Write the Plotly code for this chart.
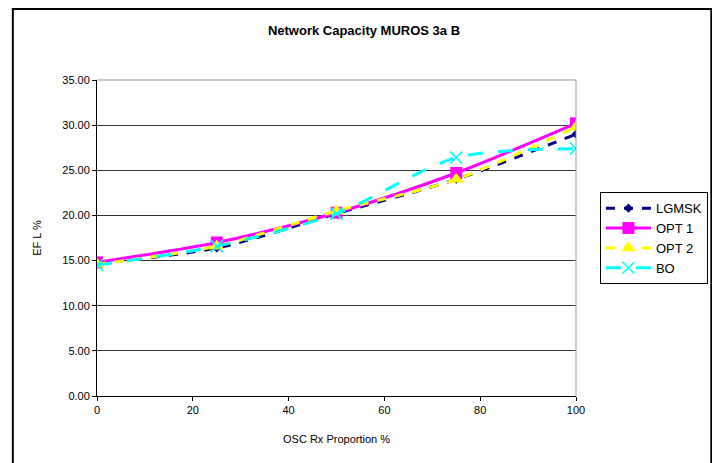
import plotly.graph_objects as go

# data
x_vals = [0, 25, 50, 75, 100]
lgmsk = [14.7, 16.4, 20.2, 24.0, 29.0]
opt1 = [14.8, 17.0, 20.3, 24.7, 30.2]
opt2 = [14.6, 16.6, 20.5, 24.0, 29.8]
bo = [14.5, 16.6, 20.2, 26.4, 27.4]

font = "Liberation Sans, Arial, sans-serif"

fig = go.Figure()

# LGMSK - navy, dashed, diamonds
fig.add_trace(go.Scatter(
  x=x_vals, y=lgmsk, name="LGMSK", mode="lines+markers",
  line=dict(color="#000080", width=3, dash="dash", shape="spline", smoothing=0.8),
  marker=dict(symbol="diamond", size=7, color="#000080")
))
# OPT 1 - magenta solid, squares
fig.add_trace(go.Scatter(
  x=x_vals, y=opt1, name="OPT 1", mode="lines+markers",
  line=dict(color="#FF00FF", width=3, shape="spline", smoothing=0.8),
  marker=dict(symbol="square", size=12, color="#FF00FF")
))
# OPT 2 - yellow dashed, triangles
fig.add_trace(go.Scatter(
  x=x_vals, y=opt2, name="OPT 2", mode="lines+markers",
  line=dict(color="#FFFF00", width=3, dash="dash", shape="spline", smoothing=0.8),
  marker=dict(symbol="triangle-up", size=13, color="#FFFF00")
))
# BO - cyan long dash, x markers
fig.add_trace(go.Scatter(
  x=x_vals, y=bo, name="BO", mode="lines+markers",
  line=dict(color="#00FFFF", width=3, dash="longdash", shape="spline", smoothing=0.8),
  marker=dict(symbol="x-thin", size=12, line=dict(color="#00FFFF", width=1.5))
))

# page body has an 8px margin, so the figure is sized to fit the window
fig.update_layout(
  width=712, height=455,
  margin=dict(l=89, r=142, t=72, b=67),
  paper_bgcolor="white", plot_bgcolor="white",
  font=dict(family=font, size=11, color="black"),
  title=dict(text="<b>Network Capacity MUROS 3a B</b>", x=0.5, xanchor="center",
             y=0.95, yanchor="middle", font=dict(size=13, family=font)),
  showlegend=True,
  legend=dict(x=1.05, y=0.645, xanchor="left", yanchor="top",
              bordercolor="black", borderwidth=1, bgcolor="white",
              font=dict(size=13, family=font), tracegroupgap=0,
              itemwidth=45),
  shapes=[
    # chart area border
    dict(type="rect", xref="paper", yref="paper",
         x0=-0.1757, x1=1.2825, y0=-0.25, y1=1.2247,
         line=dict(color="black", width=2)),
    # plot area right and top border
    dict(type="line", xref="paper", yref="paper", x0=1, x1=1, y0=0, y1=1,
         line=dict(color="#999999", width=1)),
    dict(type="line", xref="paper", yref="paper", x0=0, x1=1, y0=1, y1=1,
         line=dict(color="#999999", width=1)),
  ]
)

fig.update_xaxes(
  range=[0, 100], tickvals=[0, 20, 40, 60, 80, 100],
  showgrid=False, zeroline=False,
  showline=True, linecolor="black", linewidth=1,
  ticks="outside", ticklen=4, tickcolor="black",
  title=dict(text="OSC Rx Proportion %", standoff=20, font=dict(size=11))
)
fig.update_yaxes(
  range=[0, 35], dtick=5, tickformat=".2f",
  showgrid=True, gridcolor="#333333", gridwidth=1, zeroline=False,
  showline=True, linecolor="black", linewidth=1,
  ticks="outside", ticklen=4, tickcolor="black",
  title=dict(text="EF L %", standoff=18, font=dict(size=11))
)

fig.write_html("out.html")
